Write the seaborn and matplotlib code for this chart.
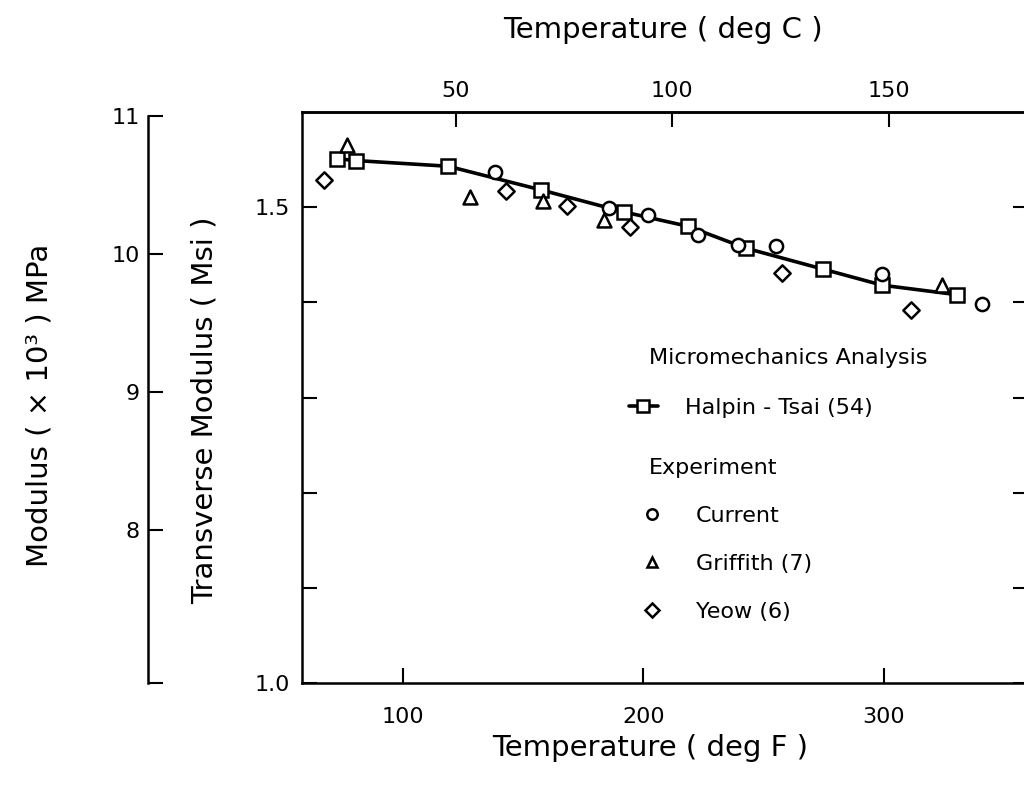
import matplotlib
matplotlib.use("Agg")
import matplotlib.pyplot as plt
from matplotlib.lines import Line2D
import seaborn as sns

# Halpin-Tsai micromechanics prediction (deg F, Msi)
halpin_temp_f = [72.6, 80.5, 118.9, 157.7, 191.9, 218.4, 242.5, 274.5, 299.3, 330.4]
halpin_mod = [1.551, 1.549, 1.543, 1.518, 1.495, 1.480, 1.457, 1.435, 1.418, 1.408]

# Experimental data sets (deg F, Msi)
current_temp_f = [138.3, 185.8, 202.0, 222.8, 239.4, 255.1, 299.3, 340.8]
current_mod = [1.537, 1.499, 1.492, 1.471, 1.460, 1.459, 1.430, 1.398]

griffith_temp_f = [77.0, 128.2, 158.4, 183.6, 323.9]
griffith_mod = [1.565, 1.511, 1.506, 1.487, 1.418]

yeow_temp_f = [67.4, 142.9, 168.4, 194.4, 257.7, 311.2]
yeow_mod = [1.529, 1.517, 1.501, 1.479, 1.431, 1.392]

# Axis ticks
f_ticks = [100, 200, 300]
c_ticks = [50, 100, 150]
msi_ticks = [1.0, 1.1, 1.2, 1.3, 1.4, 1.5]
msi_tick_labels = ["1.0", "", "", "", "", "1.5"]
mpa_ticks = [8000, 9000, 10000, 11000]
mpa_tick_labels = ["8", "9", "10", "11"]

MSI_TO_MPA = 6894.757

sns.set_theme(style="ticks", rc={
    "axes.edgecolor": "black", "axes.labelcolor": "black",
    "text.color": "black", "xtick.color": "black", "ytick.color": "black",
})
plt.rcParams["font.family"] = ["DejaVu Sans"]

W, H = 1024, 790
fig = plt.figure(figsize=(W / 100, H / 100), dpi=100)

# main axes in pixel geometry
x0, x1, y_top, y_bot = 302, 1028.4, 112, 683
ax = fig.add_axes([x0 / W, 1 - y_bot / H, (x1 - x0) / W, (y_bot - y_top) / H])

lw_spine = 1.8
tick_len = 10.8
tick_w = 1.5
mk_edge = 1.8

sns.lineplot(x=halpin_temp_f, y=halpin_mod, ax=ax, color="black", lw=2.6,
             marker="s", markersize=9.5, markerfacecolor="white",
             markeredgecolor="black", markeredgewidth=mk_edge,
             estimator=None, sort=False, legend=False, zorder=3)

for xs, ys, mk, sz in [(current_temp_f, current_mod, "o", 9.5),
                       (griffith_temp_f, griffith_mod, "^", 10),
                       (yeow_temp_f, yeow_mod, "D", 8.3)]:
    sns.scatterplot(x=xs, y=ys, ax=ax, marker=mk, s=sz ** 2,
                    facecolor="white", edgecolor="black", linewidth=mk_edge,
                    legend=False, zorder=4)

ax.set_xlim(58.2, 360)
ax.set_ylim(1.0, 1.6)
ax.set_xticks(f_ticks)
ax.set_xticklabels([str(t) for t in f_ticks])
ax.set_yticks(msi_ticks)
ax.set_yticklabels(msi_tick_labels)
ax.tick_params(axis="x", direction="in", length=tick_len, width=tick_w,
               labelsize=16, pad=17, top=False)
ax.tick_params(axis="y", direction="in", length=tick_len, width=tick_w,
               labelsize=16, pad=8.5, right=True)
for sp in ax.spines.values():
    sp.set_linewidth(lw_spine)
ax.set_xlabel("")
ax.set_ylabel("")

# Celsius scale along the top
sec = ax.secondary_xaxis("top", functions=(lambda f: (f - 32) * 5 / 9,
                                            lambda c: c * 9 / 5 + 32))
sec.set_xticks(c_ticks)
sec.set_xticklabels([str(t) for t in c_ticks])
sec.tick_params(direction="in", length=tick_len, width=tick_w, labelsize=16, pad=8)
sec.spines["top"].set_linewidth(lw_spine)

# MPa scale on a detached outer axis
mpa_x = 148
ax_mpa = fig.add_axes([mpa_x / W, 1 - y_bot / H, 0.001, (y_bot - y_top) / H])
ax_mpa.set_facecolor("none")
ax_mpa.set_ylim(1.0 * MSI_TO_MPA, 1.6 * MSI_TO_MPA)
for side in ["top", "right", "bottom"]:
    ax_mpa.spines[side].set_visible(False)
ax_mpa.spines["left"].set_linewidth(lw_spine)
ax_mpa.spines["left"].set_bounds(1.0 * MSI_TO_MPA, 11000)
ax_mpa.set_xticks([])
ax_mpa.set_yticks([1.0 * MSI_TO_MPA] + mpa_ticks)
ax_mpa.set_yticklabels([""] + mpa_tick_labels)
ax_mpa.tick_params(axis="y", direction="in", length=tick_len, width=tick_w,
                   labelsize=16, pad=6)

# axis titles
fig.text(650 / W, 1 - 748 / H, "Temperature ( deg F )", fontsize=21,
         ha="center", va="center")
fig.text(663 / W, 1 - 30 / H, "Temperature ( deg C )", fontsize=21,
         ha="center", va="center")
fig.text(205 / W, 1 - 410 / H, "Transverse Modulus ( Msi )", fontsize=21,
         rotation=90, ha="center", va="center")
fig.text(40 / W, 1 - 405 / H, "Modulus ( × 10³ ) MPa", fontsize=21,
         rotation=90, ha="center", va="center")

# key
def ax_x(px):
    return (px - x0) / (x1 - x0)

def ax_y(py):
    return (y_bot - py) / (y_bot - y_top)

ax.text(ax_x(649), ax_y(358), "Micromechanics Analysis", fontsize=16,
        ha="left", va="center", transform=ax.transAxes)
ax.text(ax_x(649), ax_y(468), "Experiment", fontsize=16,
        ha="left", va="center", transform=ax.transAxes)

h_line = [Line2D([], [], color="black", lw=2.6, marker="s", markersize=8,
                 markerfacecolor="white", markeredgecolor="black",
                 markeredgewidth=mk_edge)]
leg1 = ax.legend(h_line, ["Halpin - Tsai (54)"], loc="center left",
                 bbox_to_anchor=(ax_x(629), ax_y(408)), frameon=False,
                 fontsize=16, handlelength=1.3, handletextpad=1.2,
                 borderpad=0, borderaxespad=0)
ax.add_artist(leg1)

h_exp = [Line2D([], [], ls="none", marker=m, markersize=s, markerfacecolor="white",
                markeredgecolor="black", markeredgewidth=mk_edge)
         for m, s in [("o", 7.5), ("^", 7.5), ("D", 7)]]
ax.legend(h_exp, ["Current", "Griffith (7)", "Yeow (6)"], loc="center left",
          bbox_to_anchor=(ax_x(648), ax_y(564)), frameon=False, fontsize=16,
          handlelength=0.36, handletextpad=1.8, labelspacing=1.25,
          borderpad=0, borderaxespad=0)

fig.savefig("out.png", dpi=100)
